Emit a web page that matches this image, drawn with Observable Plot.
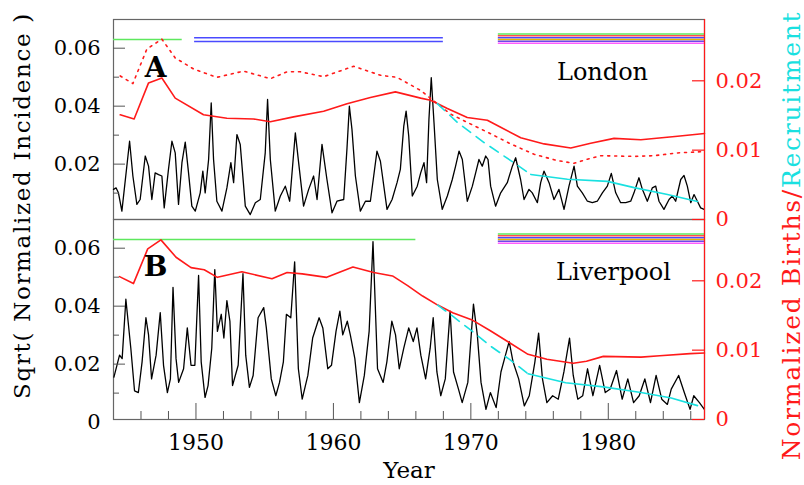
<!DOCTYPE html>
<html><head><meta charset="utf-8">
<script src="https://cdn.jsdelivr.net/npm/d3@7"></script>
<script src="https://cdn.jsdelivr.net/npm/@observablehq/plot@0.6"></script>
<style>body{margin:0;background:#fff}#chart{width:804px;height:485px}#chart svg text{font-family:"DejaVu Serif",serif}</style>
</head><body><div id="chart"></div>
<script>
// ---------------- data ----------------
const cities = ["London", "Liverpool"];

// Sqrt(normalized incidence), London (panel A)
const londonYear = [1944.00,1944.19,1944.36,1944.61,1945.17,1945.41,1945.70,1945.94,1946.31,1946.55,1946.79,1947.03,1947.28,1947.52,1947.69,1948.00,1948.25,1948.49,1948.73,1948.98,1949.22,1949.46,1949.70,1949.95,1950.31,1950.50,1950.67,1950.92,1951.11,1951.28,1951.52,1951.89,1952.25,1952.54,1952.74,1952.98,1953.22,1953.59,1953.95,1954.32,1954.68,1955.04,1955.21,1955.41,1955.77,1956.14,1956.50,1956.82,1957.23,1957.47,1957.83,1958.20,1958.56,1958.81,1959.17,1959.53,1959.90,1960.26,1960.75,1960.99,1961.16,1961.35,1961.60,1961.96,1962.33,1962.69,1963.17,1963.42,1963.90,1964.27,1964.63,1964.87,1965.12,1965.29,1965.48,1965.74,1966.10,1966.35,1966.59,1966.78,1966.95,1967.12,1967.32,1967.56,1967.92,1968.29,1968.65,1968.89,1969.14,1969.38,1969.74,1970.11,1970.35,1970.59,1970.83,1971.08,1971.25,1971.44,1971.80,1972.17,1972.65,1973.02,1973.26,1973.62,1973.87,1974.23,1974.47,1974.84,1975.08,1975.32,1975.69,1976.05,1976.41,1976.78,1977.14,1977.51,1977.75,1978.11,1978.48,1978.84,1979.20,1979.57,1979.93,1980.22,1980.54,1980.90,1981.27,1981.63,1981.87,1982.23,1982.48,1982.84,1983.20,1983.45,1983.69,1984.05,1984.42,1984.66,1984.90,1985.27,1985.51,1985.75,1986.00,1986.24,1986.48,1986.72,1986.97];
const londonIncidence = [0.0113,0.0118,0.0101,0.0038,0.0279,0.0159,0.0061,0.0078,0.0228,0.0193,0.0078,0.0170,0.0164,0.0159,0.0049,0.0182,0.0279,0.0239,0.0061,0.0205,0.0276,0.0170,0.0055,0.0038,0.0101,0.0176,0.0101,0.0216,0.0411,0.0216,0.0072,0.0038,0.0118,0.0205,0.0136,0.0302,0.0268,0.0055,0.0026,0.0067,0.0078,0.0239,0.0423,0.0216,0.0038,0.0090,0.0124,0.0072,0.0308,0.0205,0.0055,0.0113,0.0159,0.0078,0.0268,0.0147,0.0032,0.0072,0.0078,0.0256,0.0400,0.0320,0.0159,0.0038,0.0072,0.0072,0.0245,0.0210,0.0044,0.0078,0.0136,0.0182,0.0331,0.0383,0.0297,0.0090,0.0124,0.0170,0.0205,0.0136,0.0354,0.0498,0.0343,0.0147,0.0044,0.0090,0.0147,0.0193,0.0245,0.0216,0.0072,0.0124,0.0170,0.0216,0.0193,0.0228,0.0216,0.0124,0.0055,0.0101,0.0136,0.0193,0.0222,0.0147,0.0078,0.0113,0.0101,0.0067,0.0136,0.0176,0.0136,0.0078,0.0113,0.0044,0.0124,0.0193,0.0124,0.0101,0.0072,0.0067,0.0072,0.0101,0.0124,0.0168,0.0101,0.0067,0.0067,0.0072,0.0101,0.0153,0.0113,0.0072,0.0118,0.0124,0.0072,0.0044,0.0078,0.0090,0.0072,0.0147,0.0161,0.0124,0.0067,0.0095,0.0072,0.0049,0.0044];

// Sqrt(normalized incidence), Liverpool (panel B)
const liverpoolYear = [1944.03,1944.25,1944.44,1944.63,1944.90,1945.26,1945.53,1945.81,1946.08,1946.36,1946.55,1946.77,1947.10,1947.40,1947.64,1947.92,1948.14,1948.33,1948.55,1948.74,1949.10,1949.37,1949.64,1949.92,1950.19,1950.38,1950.66,1950.88,1951.15,1951.37,1951.56,1951.84,1952.03,1952.25,1952.47,1952.66,1953.07,1953.42,1953.62,1953.89,1954.16,1954.52,1954.93,1955.12,1955.48,1955.81,1956.08,1956.36,1956.58,1956.90,1957.18,1957.45,1957.73,1958.14,1958.49,1958.96,1959.23,1959.59,1959.86,1960.19,1960.47,1960.68,1961.01,1961.23,1961.56,1961.89,1962.25,1962.60,1962.88,1963.21,1963.62,1963.89,1964.25,1964.52,1964.79,1965.12,1965.48,1965.81,1966.08,1966.36,1966.71,1967.04,1967.26,1967.53,1967.81,1968.14,1968.49,1968.74,1969.10,1969.37,1969.78,1970.19,1970.47,1970.74,1971.10,1971.42,1971.84,1972.19,1972.52,1972.79,1973.07,1973.48,1973.89,1974.25,1974.66,1974.93,1975.21,1975.53,1975.95,1976.36,1976.77,1977.18,1977.45,1977.78,1978.14,1978.49,1978.88,1979.37,1979.78,1980.14,1980.60,1981.01,1981.42,1981.84,1982.25,1982.66,1983.07,1983.48,1983.89,1984.30,1984.58,1985.12,1985.53,1985.95,1986.22,1986.63,1986.99];
const liverpoolIncidence = [0.0155,0.0196,0.0231,0.0219,0.0424,0.0255,0.0108,0.0102,0.0208,0.0360,0.0301,0.0149,0.0231,0.0378,0.0196,0.0102,0.0149,0.0465,0.0219,0.0137,0.0184,0.0325,0.0196,0.0196,0.0506,0.0208,0.0085,0.0126,0.0255,0.0526,0.0313,0.0372,0.0290,0.0419,0.0348,0.0126,0.0196,0.0512,0.0231,0.0120,0.0161,0.0360,0.0395,0.0325,0.0149,0.0091,0.0137,0.0208,0.0372,0.0360,0.0553,0.0184,0.0079,0.0161,0.0290,0.0360,0.0325,0.0184,0.0196,0.0313,0.0383,0.0301,0.0348,0.0301,0.0219,0.0067,0.0161,0.0313,0.0623,0.0184,0.0137,0.0208,0.0348,0.0301,0.0184,0.0255,0.0325,0.0278,0.0325,0.0231,0.0149,0.0255,0.0360,0.0173,0.0091,0.0149,0.0383,0.0173,0.0114,0.0067,0.0137,0.0407,0.0301,0.0137,0.0044,0.0102,0.0050,0.0173,0.0231,0.0278,0.0208,0.0149,0.0056,0.0091,0.0208,0.0307,0.0149,0.0067,0.0091,0.0079,0.0173,0.0290,0.0161,0.0079,0.0091,0.0184,0.0091,0.0196,0.0102,0.0114,0.0178,0.0079,0.0149,0.0067,0.0091,0.0149,0.0067,0.0161,0.0079,0.0061,0.0114,0.0161,0.0102,0.0044,0.0091,0.0067,0.0044];

// Normalized births (right axis)
const londonBirthYear = [1944.49,1945.50,1946.55,1947.52,1948.49,1950.55,1952.25,1954.19,1955.41,1957.10,1959.29,1960.99,1962.69,1964.51,1966.35,1967.07,1968.29,1969.74,1971.20,1972.17,1973.63,1975.33,1977.27,1978.72,1980.42,1982.37,1985.04,1987.00];
const londonBirths = [0.0151,0.0145,0.0197,0.0204,0.0175,0.0151,0.0146,0.0145,0.0141,0.0148,0.0156,0.0167,0.0176,0.0184,0.0175,0.0172,0.0160,0.0147,0.0143,0.0133,0.0118,0.0109,0.0103,0.0110,0.0117,0.0115,0.0120,0.0124];
const londonBirthsAltYear = [1944.49,1945.41,1946.43,1947.52,1948.49,1949.83,1951.52,1953.47,1955.41,1956.62,1957.59,1959.29,1961.48,1963.42,1964.63,1966.35,1967.56,1968.53,1969.74,1971.20,1972.90,1974.60,1976.30,1977.51,1978.48,1979.45,1981.88,1983.34,1985.04,1987.00];
const londonBirthsAlt = [0.0207,0.0196,0.0246,0.0260,0.0233,0.0217,0.0205,0.0214,0.0203,0.0213,0.0213,0.0206,0.0221,0.0208,0.0205,0.0186,0.0167,0.0152,0.0140,0.0126,0.0109,0.0094,0.0085,0.0081,0.0087,0.0092,0.0091,0.0092,0.0096,0.0098];
const liverpoolBirthYear = [1944.44,1945.45,1946.49,1947.45,1948.55,1949.64,1950.60,1951.56,1953.34,1955.53,1956.63,1957.73,1959.51,1961.42,1962.93,1964.30,1965.40,1966.49,1967.59,1968.68,1970.05,1971.42,1972.79,1974.16,1975.53,1977.45,1978.41,1979.64,1982.38,1983.75,1985.95,1987.00];
const liverpoolBirths = [0.0206,0.0196,0.0246,0.0259,0.0234,0.0219,0.0216,0.0205,0.0213,0.0203,0.0212,0.0210,0.0205,0.0220,0.0212,0.0207,0.0193,0.0178,0.0165,0.0154,0.0144,0.0128,0.0111,0.0094,0.0087,0.0081,0.0084,0.0091,0.0090,0.0092,0.0095,0.0096];

// Recruitment (right axis): estimated (dashed) then observed (solid)
const londonRecruitEstYear = [1967.56,1969.02,1970.96,1972.90,1974.36];
const londonRecruitEst = [0.0167,0.0140,0.0111,0.0085,0.0065];
const londonRecruitYear = [1974.36,1977.03,1979.94,1981.88,1984.31,1986.49];
const londonRecruit = [0.0065,0.0058,0.0055,0.0046,0.0036,0.0026];
const liverpoolRecruitEstYear = [1967.59,1968.68,1970.05,1971.42,1972.79,1974.16];
const liverpoolRecruitEst = [0.0165,0.0149,0.0128,0.0106,0.0087,0.0066];
const liverpoolRecruitYear = [1974.16,1976.90,1979.64,1982.38,1984.58,1986.49];
const liverpoolRecruit = [0.0066,0.0053,0.0047,0.0039,0.0031,0.0020];

// period bars at top of each panel
const bandCity  = ["London","London","London","Liverpool","Liverpool"];
const bandStart = [1944, 1949.9, 1972, 1944, 1972];
const bandEnd   = [1949, 1968, 1987, 1966, 1987];
const bandKind  = ["green","blue","multi","green","multi"];

// axes
const leftMajor = [0.02, 0.04, 0.06];
const leftMinor = [0.01, 0.03, 0.05];
const rightTicks = [0, 0.01, 0.02];
const yearMajor = [1950, 1960, 1970, 1980];
const yearMinor = [1946,1948,1952,1954,1956,1958,1962,1964,1966,1968,1972,1974,1976,1978,1982,1984,1986];

// ---------------- build ----------------
const RED = "#ff1a1a", CYAN = "#19e0e0", GRAY = "#555";
const FONT = "DejaVu Serif";
const yLo = 0.0009, yHi = 0.0699, rHi = 0.02884;
const rToL = r => yLo + r / rHi * (yHi - yLo);
const FRAMEW = 804 - 113 - 100, FACETH = 200;

const zip = (city, xs, ys) => xs.map((x, i) => ({city, x, v: ys[i]}));
const inc = [...zip("London", londonYear, londonIncidence), ...zip("Liverpool", liverpoolYear, liverpoolIncidence)];
const births = [...zip("London", londonBirthYear, londonBirths), ...zip("Liverpool", liverpoolBirthYear, liverpoolBirths)];
const birthsAlt = zip("London", londonBirthsAltYear, londonBirthsAlt);
const recEst = [...zip("London", londonRecruitEstYear, londonRecruitEst), ...zip("Liverpool", liverpoolRecruitEstYear, liverpoolRecruitEst)];
const rec = [...zip("London", londonRecruitYear, londonRecruit), ...zip("Liverpool", liverpoolRecruitYear, liverpoolRecruit)];
const bands = bandCity.map((c, i) => ({city: c, start: bandStart[i], end: bandEnd[i], kind: bandKind[i]}));
const cross = (vals) => cities.flatMap(c => vals.map(v => ({city: c, v})));

const bandStyles = {
  green: [[20, "#5ee85e"]],
  blue: [[18.3, "#4a4aff"], [22, "#4a4aff"]],
  multi: [[14.5, "#5ee85e"], [16.3, "#ff4f4f"], [18.2, "#4a4aff"], [20, "#e8b400"], [21.8, "#6a4ae8"], [23.7, "#ff5cff"]]
};
const bandMarks = [];
for (const [kind, lines] of Object.entries(bandStyles)) {
  for (const [off, col] of lines) {
    bandMarks.push(Plot.ruleY(bands.filter(b => b.kind === kind), {x1: "start", x2: "end", y: () => yHi, fy: "city", dy: off, stroke: col, strokeWidth: 1.4}));
  }
}

const fmt = v => v === 0 ? "0" : v.toFixed(2);
const leftLabels = [...leftMajor.map(v => ({city: "London", v})), ...[0, ...leftMajor].map(v => ({city: "Liverpool", v}))];
const C = {textAnchor: "middle", lineAnchor: "middle", fontFamily: FONT};
const LEFT_TITLE = "Sqrt( Normalized Incidence )";
const RIGHT_TITLE = "Normalized Births/Recruitment";

const chart = Plot.plot({
  width: 804, height: 485,
  marginLeft: 113, marginRight: 100, marginTop: 19, marginBottom: 66,
  x: {domain: [1944, 1987], axis: null},
  y: {domain: [yLo, yHi], axis: null},
  fy: {domain: cities, axis: null, padding: 0},
  style: {fontFamily: FONT, background: "white", overflow: "visible"},
  marks: [
    Plot.frame({stroke: "#666", strokeWidth: 1.2}),
    ...bandMarks,
    Plot.line(inc, {x: "x", y: "v", fy: "city", z: "city", stroke: "black", strokeWidth: 1.3}),
    Plot.line(births, {x: "x", y: d => rToL(d.v), fy: "city", z: "city", stroke: RED, strokeWidth: 1.6}),
    Plot.line(birthsAlt, {x: "x", y: d => rToL(d.v), fy: "city", stroke: RED, strokeWidth: 1.6, strokeDasharray: "2,5"}),
    Plot.line(recEst, {x: "x", y: d => rToL(d.v), fy: "city", z: "city", stroke: CYAN, strokeWidth: 1.6, strokeDasharray: "10,7"}),
    Plot.line(rec, {x: "x", y: d => rToL(d.v), fy: "city", z: "city", stroke: CYAN, strokeWidth: 1.6}),
    // left ticks
    Plot.ruleY(cross(leftMajor), {y: "v", fy: "city", insetRight: FRAMEW - 12, stroke: GRAY}),
    Plot.ruleY(cross(leftMinor), {y: "v", fy: "city", insetRight: FRAMEW - 6, stroke: GRAY}),
    // right axis
    Plot.ruleX([1987], {stroke: RED, strokeWidth: 1.2}),
    Plot.ruleY(cross(rightTicks), {y: d => rToL(d.v), fy: "city", insetLeft: FRAMEW - 12, stroke: RED, strokeWidth: 1.2}),
    // bottom ticks
    Plot.ruleX(yearMajor, {x: d => d, fy: () => "Liverpool", insetTop: FACETH - 16, stroke: GRAY}),
    Plot.ruleX(yearMinor, {x: d => d, fy: () => "Liverpool", insetTop: FACETH - 8, stroke: GRAY}),
    // tick labels
    Plot.text(leftLabels, {y: "v", fy: "city", text: d => fmt(d.v), frameAnchor: "left", dx: -13, textAnchor: "end", fontSize: 21, fontFamily: FONT, fill: "black"}),
    Plot.text(cross(rightTicks), {y: d => rToL(d.v), fy: "city", text: d => fmt(d.v), frameAnchor: "right", dx: 11, textAnchor: "start", fontSize: 21, fontFamily: FONT, fill: RED}),
    Plot.text(yearMajor, {x: d => d, fy: () => "Liverpool", text: d => String(d), frameAnchor: "bottom", dy: 23, fontSize: 22, fill: "black", ...C}),
    // axis titles
    Plot.text(["Year"], {fy: () => "Liverpool", frameAnchor: "bottom", dy: 51, fontSize: 23, fill: "black", ...C}),
    Plot.text([LEFT_TITLE], {fy: () => "London", frameAnchor: "bottom-left", dx: -91, dy: -14, rotate: -90, fontSize: 23, fill: "black", ...C}),
    Plot.text([RIGHT_TITLE], {fy: () => "London", frameAnchor: "bottom-right", dx: 87, dy: 16, rotate: -90, fontSize: 25, fill: RED, ...C}),
    // panel labels
    Plot.text(["A"], {fy: () => "London", frameAnchor: "top-left", dx: 42, dy: 49, fontSize: 28, fontWeight: "bold", fill: "black", ...C}),
    Plot.text(["B"], {fy: () => "Liverpool", frameAnchor: "top-left", dx: 42, dy: 48, fontSize: 28, fontWeight: "bold", fill: "black", ...C}),
    Plot.text(["London"], {fy: () => "London", frameAnchor: "top-right", dx: -102, dy: 52.5, fontSize: 24, fill: "black", ...C}),
    Plot.text(["Liverpool"], {fy: () => "Liverpool", frameAnchor: "top-right", dx: -91, dy: 52.5, fontSize: 24, fill: "black", ...C})
  ]
});

document.getElementById("chart").appendChild(chart);

// two-colour right axis title, and stretch both rotated titles to the reference length
d3.select(chart).selectAll("text").each(function() {
  const s = this.textContent;
  if (s === RIGHT_TITLE) {
    const t = d3.select(this);
    t.text(null).attr("text-anchor", "middle");
    t.append("tspan").attr("fill", RED).text("Normalized Births/");
    t.append("tspan").attr("fill", CYAN).text("Recruitment");
  }
});
d3.select(chart).selectAll("text").each(function() {
  const s = this.textContent;
  const target = s === LEFT_TITLE ? 385 : s === RIGHT_TITLE ? 448 : 0;
  if (target) {
    const len = this.getComputedTextLength();
    const ls = (target - len) / (s.length - 1);
    d3.select(this).attr("letter-spacing", ls.toFixed(2) + "px");
  }
});
</script></body></html>
